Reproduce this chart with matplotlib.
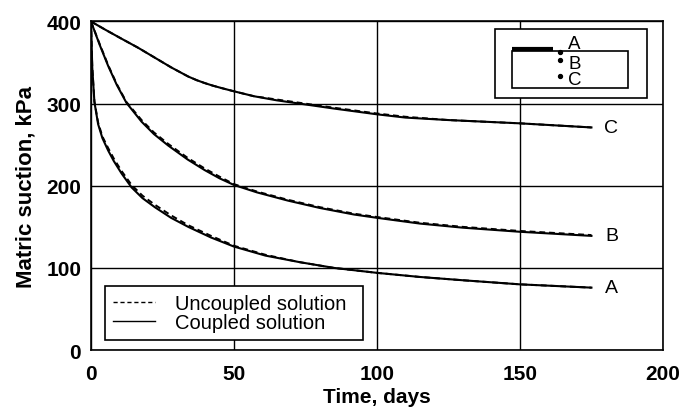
import matplotlib.pyplot as plt
from matplotlib.lines import Line2D
from matplotlib.patches import Rectangle

plt.rcParams['font.family'] = ['Liberation Sans', 'DejaVu Sans']

# time points (days) for each curve
t_a = [0, 0.45, 1.2, 2.5, 4, 6, 8, 10.7, 14.2, 18, 22.3, 28, 34, 42, 50, 61, 73, 85, 100, 115, 130, 150, 175]
t_b = [0, 3, 6, 9, 12.4, 17.7, 22, 27, 33.8, 39.8, 45, 50, 58, 68.8, 80, 92, 100, 115, 130, 150, 175]
t_c = [0, 5, 10.7, 16.5, 22.3, 28.1, 34, 37, 39.8, 42.5, 45.6, 50, 57, 65, 73, 85, 100, 110, 125, 150, 175]

# coupled solution (kPa)
coupled_a = [400, 344, 302, 275, 258, 243, 230, 215, 198, 185, 174, 161, 150, 137, 126, 115, 107, 100, 94, 89, 85, 80, 76]
coupled_b = [400, 372, 346, 323, 301, 278, 263, 249, 232, 219, 209, 201, 192, 182, 173, 165, 161, 154, 149, 144, 139]
coupled_c = [400, 390, 379, 368, 356, 344, 333, 328.5, 325, 322, 319, 315, 309, 304, 300, 294, 287, 283, 280, 276, 271]

# uncoupled solution (kPa)
uncoupled_a = [400, 345, 303, 277, 260, 246, 233, 218, 201, 188, 177, 164, 152, 139, 127, 116, 107, 100, 94, 89, 85, 80, 76]
uncoupled_b = [400, 373, 347, 324, 302, 280, 265, 251, 234, 221, 211, 202, 193, 183, 174, 166, 162, 155, 150, 145, 140]
uncoupled_c = [400, 390, 379, 368, 356, 344, 333, 328.5, 325, 322, 319, 315, 309, 305, 301, 295, 288, 284, 280, 276, 271]

curve_labels = ['A', 'B', 'C']
x_ticks = [0, 50, 100, 150, 200]
y_ticks = [0, 100, 200, 300, 400]

fig = plt.figure(figsize=(6.85, 4.14), dpi=100)
ax = fig.add_axes([0.1328, 0.152, 0.8350, 0.7937])

for t, c, u in [(t_a, coupled_a, uncoupled_a), (t_b, coupled_b, uncoupled_b), (t_c, coupled_c, uncoupled_c)]:
    ax.plot(t, c, color='black', lw=1.5, zorder=3)
    ax.plot(t, u, color='black', lw=1.4, ls=(0, (3, 2)), zorder=3)

# curve labels at the right ends
for lab, y in zip(curve_labels, [coupled_a[-1], coupled_b[-1], coupled_c[-1]]):
    ax.text(182, y, lab, fontsize=14, ha='center', va='center')

ax.set_xlim(0, 200)
ax.set_ylim(0, 400)
ax.set_xticks(x_ticks)
ax.set_yticks(y_ticks)
ax.grid(True, color='black', lw=1.0)
ax.set_axisbelow(True)
for s in ax.spines.values():
    s.set_linewidth(1.2)
ax.tick_params(length=0, labelsize=15)
ax.tick_params(axis='x', pad=10)
ax.tick_params(axis='y', pad=7)
for lbl in ax.get_xticklabels() + ax.get_yticklabels():
    lbl.set_fontweight('bold')

ax.set_xlabel('Time, days', fontsize=15, fontweight='bold', labelpad=3)
ax.set_ylabel('Matric suction, kPa', fontsize=16, fontweight='bold', labelpad=7)

# legend in the lower left
handles = [Line2D([], [], color='black', lw=1.0, ls=(0, (3, 2))),
           Line2D([], [], color='black', lw=1.0)]
leg = ax.legend(handles, ['Uncoupled solution', 'Coupled solution'],
                loc='lower left', bbox_to_anchor=(0.0245, 0.03, 0.451, 0.156),
                mode='expand', fontsize=14.5, frameon=True, fancybox=False,
                framealpha=1, edgecolor='black', borderaxespad=0,
                handlelength=2.1, handletextpad=1.0, labelspacing=0.0,
                borderpad=0.4)
leg.get_frame().set_linewidth(1.2)

# stray legend box in the top right corner
ax.add_patch(Rectangle((0.706, 0.767), 0.266, 0.210, transform=ax.transAxes,
                       facecolor='white', edgecolor='black', lw=1.2, zorder=4))
ax.add_patch(Rectangle((0.736, 0.798), 0.203, 0.112, transform=ax.transAxes,
                       facecolor='white', edgecolor='black', lw=1.2, zorder=5))
ax.plot([0.736, 0.808], [0.916, 0.916], transform=ax.transAxes, color='black',
        lw=3, solid_capstyle='butt', zorder=6)
ax.scatter([0.820, 0.820, 0.820], [0.907, 0.883, 0.834], s=8, color='black',
           transform=ax.transAxes, zorder=6)
for lab, y in zip(curve_labels, [0.932, 0.871, 0.822]):
    ax.text(0.845, y, lab, fontsize=13.5, ha='center', va='center',
            transform=ax.transAxes, zorder=6)

fig.savefig('out.png', dpi=100)
